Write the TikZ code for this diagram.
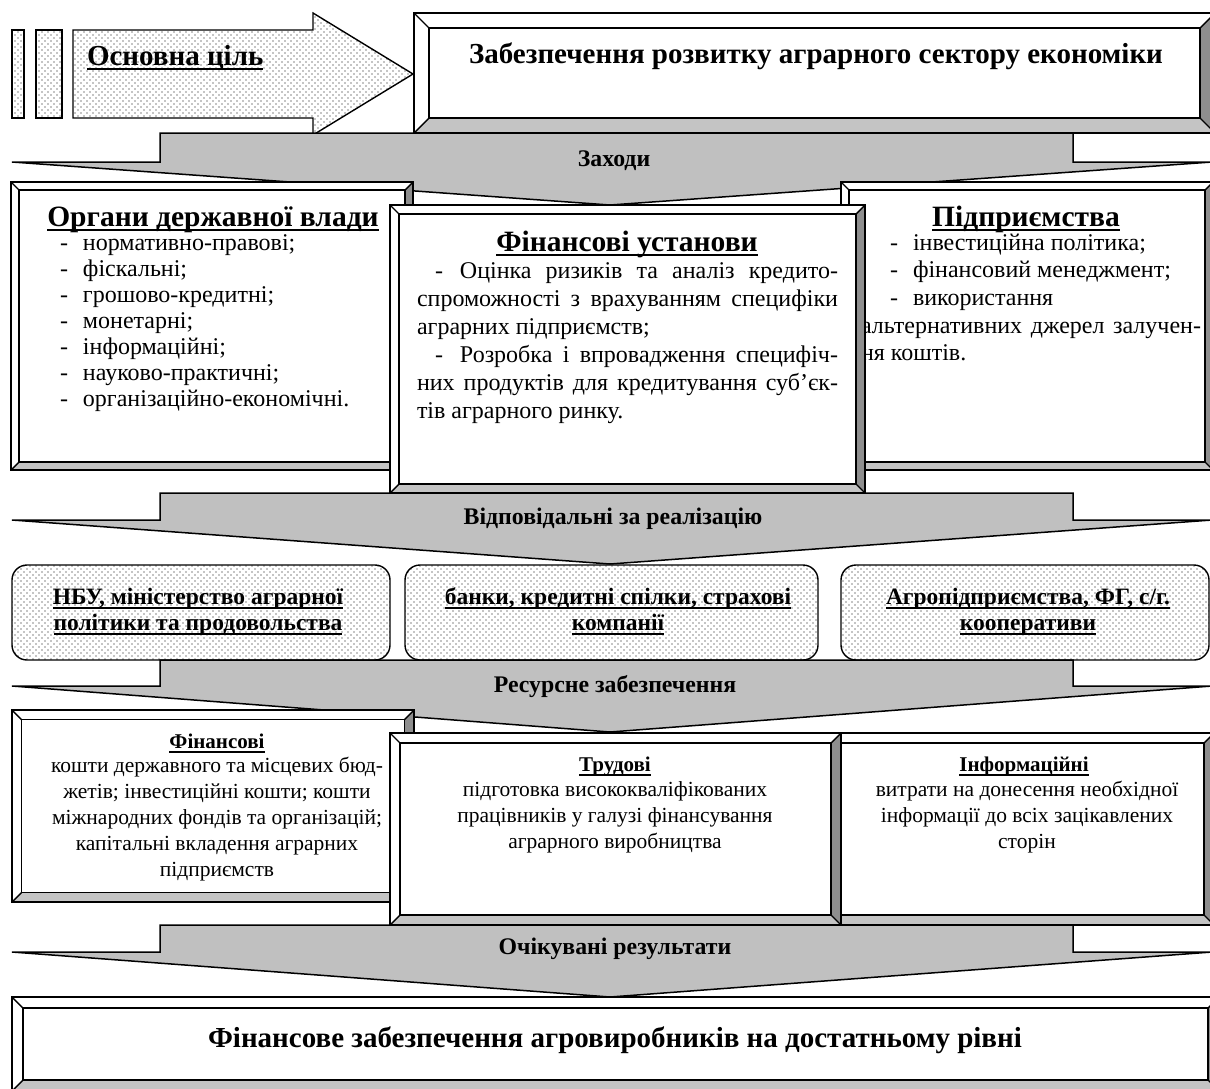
\documentclass[tikz,border=0pt]{standalone}
\usepackage{fontspec}
\setmainfont{Liberation Serif}
\usetikzlibrary{patterns}
\pgfdeclarepatternformonly{sdots}{\pgfqpoint{-1pt}{-1pt}}{\pgfqpoint{5pt}{5pt}}{\pgfqpoint{6pt}{6pt}}{%
  \pgfpathcircle{\pgfqpoint{0pt}{0pt}}{0.85pt}%
  \pgfpathcircle{\pgfqpoint{3pt}{3pt}}{0.85pt}%
  \pgfusepath{fill}}
\definecolor{arrgray}{HTML}{C0C0C0}
\definecolor{bevright}{HTML}{8E8E8E}
\definecolor{bevbot}{HTML}{C4C4C4}
\definecolor{dotgray}{HTML}{8A8A8A}
\newcommand{\myul}[1]{\setbox0\hbox{#1}\rlap{\rule[-4.5pt]{\wd0}{1.8pt}}\box0}
\tikzset{
  boxline/.style={draw=black, line width=1.4pt, line join=miter},
  arrshape/.style={fill=arrgray, draw=black, line width=1.5pt, line join=miter},
  dotfill/.style={fill=white, postaction={pattern=sdots, pattern color=dotgray}},
  txt/.style={inner sep=0pt, outer sep=0pt},
  headf/.style={font=\fontsize{29.5}{32}\selectfont\bfseries},
  bigf/.style={font=\fontsize{29}{32}\selectfont\bfseries},
  arrf/.style={font=\fontsize{23.8}{26}\selectfont\bfseries},
}
% bevel box: x1 y1 x2 y2 inset
\newcommand{\bevbox}[5]{%
  \fill[white] (#1,#2) rectangle (#3,#4);
  \fill[bevbot] (#1,#4) -- (#3,#4) -- ({#3-#5},{#4-#5}) -- ({#1+#5},{#4-#5}) -- cycle;
  \fill[bevright] (#3,#2) -- (#3,#4) -- ({#3-#5},{#4-#5}) -- ({#3-#5},{#2+#5}) -- cycle;
  \draw[boxline] (#1,#2) rectangle (#3,#4);
  \draw[boxline] ({#1+#5},{#2+#5}) rectangle ({#3-#5},{#4-#5});
  \draw[boxline] (#1,#2) -- ({#1+#5},{#2+#5}) (#3,#2) -- ({#3-#5},{#2+#5})
     (#3,#4) -- ({#3-#5},{#4-#5}) (#1,#4) -- ({#1+#5},{#4-#5});
}
% down arrow: top, wing, tip
\newcommand{\dnarrow}[3]{%
  \draw[arrshape] (160,#1) -- (1073,#1) -- (1073,#2) -- (1212,#2) -- (610,#3) -- (12,#2) -- (160,#2) -- cycle;
}
\begin{document}
\begin{tikzpicture}[x=1pt,y=-1pt]
\useasboundingbox (0,0) rectangle (1210,1088);
\clip (0,0) rectangle (1210,1088);
\fill[white] (0,0) rectangle (1210,1088);

% ---- top row
\path[dotfill] (12,30) rectangle (24,118);
\draw[boxline] (12,30) rectangle (24,118);
\path[dotfill] (36,30) rectangle (62,118);
\draw[boxline] (36,30) rectangle (62,118);
\path[dotfill] (73,30) -- (313,30) -- (313,13) -- (413,74) -- (313,135) -- (313,118) -- (73,118) -- cycle;
\draw[boxline] (73,30) -- (313,30) -- (313,13) -- (413,74) -- (313,135) -- (313,118) -- (73,118) -- cycle;
\node[txt, anchor=base west, bigf] (goal) at (87,65) {\myul{Основна ціль}};

\bevbox{414}{13}{1215}{133}{15}
\node[txt, anchor=base, bigf] (title) at (816,63) {Забезпечення розвитку аграрного сектору економіки};

% ---- Заходи
\dnarrow{133}{162}{205}
\node[txt, anchor=base, arrf] (zakhody) at (614,166) {Заходи};

% ---- middle row
\bevbox{11}{182}{413}{470}{8}
\node[txt, anchor=base, headf] (orgh) at (213,226) {\myul{Органи державної влади}};
\node[txt, anchor=base west, align=left, font=\fontsize{24}{26}\selectfont] (orgb) at (60,406) {%
\makebox[23pt][l]{-}нормативно-правові;\\
\makebox[23pt][l]{-}фіскальні;\\
\makebox[23pt][l]{-}грошово-кредитні;\\
\makebox[23pt][l]{-}монетарні;\\
\makebox[23pt][l]{-}інформаційні;\\
\makebox[23pt][l]{-}науково-практичні;\\
\makebox[23pt][l]{-}організаційно-економічні.};

\bevbox{841}{182}{1213}{470}{8}
\node[txt, anchor=base, headf] (pidh) at (1026,226) {\myul{Підприємства}};
\node[txt, anchor=base west, align=left, font=\fontsize{24}{27.7}\selectfont] (pidb) at (861,360.8) {%
\hspace*{29pt}\makebox[23pt][l]{-}інвестиційна політика;\\
\hspace*{29pt}\makebox[23pt][l]{-}фінансовий менеджмент;\\
\hspace*{29pt}\makebox[23pt][l]{-}використання\\
\makebox[340pt][s]{альтернативних джерел залучен-}\\
ня коштів.};

\bevbox{390}{205}{865}{493}{9}
\node[txt, anchor=base, headf] (finh) at (627,251) {\myul{Фінансові установи}};
\node[txt, anchor=base west, align=left, font=\fontsize{24}{28}\selectfont] (finb) at (417,418) {%
\makebox[421pt][s]{\hspace*{18pt}-\hspace*{17pt}Оцінка ризиків та аналіз кредито-}\\
\makebox[421pt][s]{спроможності з врахуванням специфіки}\\
аграрних підприємств;\\
\makebox[421pt][s]{\hspace*{18pt}-\hspace*{17pt}Розробка і впровадження специфіч-}\\
\makebox[421pt][s]{них продуктів для кредитування суб’єк-}\\
тів аграрного ринку.};

% ---- Відповідальні
\dnarrow{493}{520}{564}
\node[txt, anchor=base, arrf] (vidp) at (613,524) {Відповідальні за реалізацію};

% ---- row 3
\path[dotfill, rounded corners=15pt] (12,565) rectangle (390,660);
\draw[boxline, rounded corners=15pt] (12,565) rectangle (390,660);
\path[dotfill, rounded corners=15pt] (405,565) rectangle (818,660);
\draw[boxline, rounded corners=15pt] (405,565) rectangle (818,660);
\path[dotfill, rounded corners=15pt] (841,565) rectangle (1209,660);
\draw[boxline, rounded corners=15pt] (841,565) rectangle (1209,660);
\node[txt, anchor=base, align=center, font=\fontsize{23.5}{26}\selectfont\bfseries] (r3a) at (198,630) {\myul{НБУ, міністерство аграрної}\\\myul{політики та продовольства}};
\node[txt, anchor=base, align=center, font=\fontsize{23.5}{26}\selectfont\bfseries] (r3b) at (618,630) {\myul{банки, кредитні спілки, страхові}\\\myul{компанії}};
\node[txt, anchor=base, align=center, font=\fontsize{23.5}{26}\selectfont\bfseries] (r3c) at (1028,630) {\myul{Агропідприємства, ФГ, с/г.}\\\myul{кооперативи}};

% ---- Ресурсне
\dnarrow{660}{686}{732}
\node[txt, anchor=base, arrf] (res) at (615,692) {Ресурсне забезпечення};

% ---- row 4
\bevbox{12}{710}{414}{902}{9.5}
\node[txt, anchor=base, font=\fontsize{21}{24}\selectfont\bfseries] (r4ah) at (217,748) {\myul{Фінансові}};
\node[txt, anchor=base, align=center, font=\fontsize{21.5}{26}\selectfont] (r4ab) at (217,876) {кошти державного та місцевих бюд-\\жетів; інвестиційні кошти; кошти\\міжнародних фондів та організацій;\\капітальні вкладення аграрних\\підприємств};

\bevbox{831}{733}{1214}{925}{10}
\node[txt, anchor=base, font=\fontsize{21}{24}\selectfont\bfseries] (r4ch) at (1024,771) {\myul{Інформаційні}};
\node[txt, anchor=base, align=center, font=\fontsize{21.5}{26}\selectfont] (r4cb) at (1027,848) {витрати на донесення необхідної\\інформації до всіх зацікавлених\\сторін};

\bevbox{390}{733}{841}{925}{10}
\node[txt, anchor=base, font=\fontsize{21}{24}\selectfont\bfseries] (r4bh) at (615,771) {\myul{Трудові}};
\node[txt, anchor=base, align=center, font=\fontsize{21.5}{26}\selectfont] (r4bb) at (615,848) {підготовка висококваліфікованих\\працівників у галузі фінансування\\аграрного виробництва};

% ---- Очікувані
\dnarrow{925}{952}{997}
\node[txt, anchor=base, arrf] (ochik) at (615,954) {Очікувані результати};

% ---- final
\bevbox{12}{997}{1219}{1091}{11}
\node[txt, anchor=base, bigf] (final) at (615,1047) {Фінансове забезпечення агровиробників на достатньому рівні};
\end{tikzpicture}
\end{document}
